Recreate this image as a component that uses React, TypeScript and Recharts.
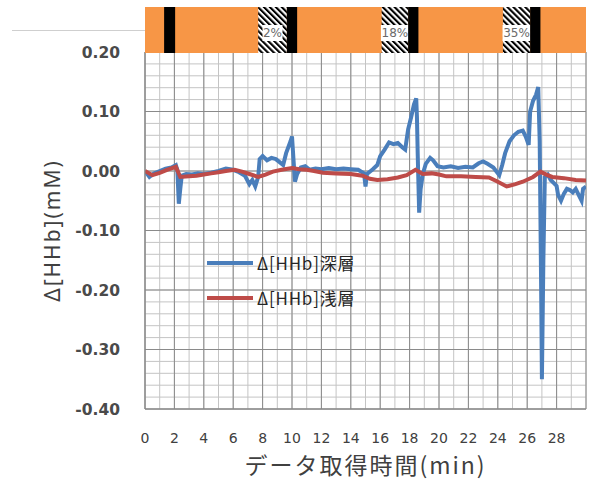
import React from 'react';
import {
  ComposedChart,
  LineChart,
  Line,
  XAxis,
  YAxis,
  CartesianGrid,
  Legend,
  ReferenceArea,
} from 'recharts';

// ---- data ----
const deepTime = [
  0.0, 0.3, 0.6, 1.0, 1.4, 1.8, 2.1, 2.2, 2.3, 2.4, 2.5, 2.8, 3.2, 3.6, 4.0, 4.5, 5.0, 5.5, 6.0, 6.4,
  6.8, 7.1, 7.3, 7.5, 7.7, 7.8, 8.0, 8.3, 8.6, 8.9, 9.2, 9.4, 9.6, 9.9, 10.0, 10.1, 10.2, 10.35, 10.6, 10.9,
  11.2, 11.6, 12.0, 12.5, 13.0, 13.5, 14.0, 14.5, 14.9, 15.0, 15.1, 15.5, 15.8, 16.0, 16.3, 16.6, 16.9, 17.2, 17.5, 17.7,
  17.9, 18.1, 18.3, 18.45, 18.5, 18.55, 18.65, 18.75, 18.9, 19.1, 19.4, 19.6, 19.9, 20.3, 20.8, 21.3, 21.8, 22.3, 22.7, 23.0,
  23.3, 23.7, 24.1, 24.3, 24.5, 24.8, 25.1, 25.4, 25.7, 25.9, 26.1, 26.2, 26.4, 26.6, 26.75, 26.85, 26.95, 27.0, 27.1, 27.2,
  27.4, 27.6, 27.8, 28.0, 28.1, 28.3, 28.5, 28.7, 28.9, 29.1, 29.3, 29.5, 29.7, 29.8, 30.0,
];
const deepValue = [
  0.0, -0.01, -0.004, 0.0, 0.004, 0.006, 0.01, 0.002, -0.055, -0.03, -0.008, -0.005, -0.006, -0.004, -0.005, -0.003, 0.0, 0.004, 0.002, -0.002,
  -0.008, -0.022, -0.015, -0.026, -0.01, 0.02, 0.025, 0.018, 0.022, 0.02, 0.014, 0.01, 0.03, 0.05, 0.058, 0.02, -0.018, -0.005, 0.006, 0.008,
  0.002, 0.004, 0.003, 0.005, 0.003, 0.004, 0.003, 0.002, -0.004, -0.026, -0.005, 0.003, 0.01, 0.025, 0.036, 0.048, 0.045, 0.047, 0.04, 0.036,
  0.07, 0.09, 0.112, 0.122, 0.09, 0.03, -0.07, -0.03, -0.005, 0.012, 0.022, 0.018, 0.008, 0.006, 0.008, 0.005, 0.007, 0.006, 0.013, 0.016,
  0.012, 0.006, -0.007, 0.01, 0.03, 0.05, 0.06, 0.066, 0.068, 0.058, 0.044, 0.1, 0.118, 0.128, 0.141, 0.05, -0.2, -0.35, -0.15, -0.01,
  -0.006, -0.015, -0.02, -0.025, -0.04, -0.05, -0.038, -0.03, -0.032, -0.036, -0.03, -0.04, -0.05, -0.03, -0.026,
];
const shallowTime = [
  0.0, 0.5, 1.0, 1.5, 2.1, 2.4, 3.0, 3.5, 4.0, 4.5, 5.0, 5.5, 6.1, 6.6, 7.1, 7.7, 8.2, 8.7, 9.3, 10.0,
  10.5, 11.0, 11.5, 12.1, 13.0, 14.0, 14.8, 15.3, 15.8, 16.5, 17.2, 17.8, 18.4, 18.9, 19.5, 20.0, 20.5, 21.5, 22.5, 23.4,
  24.0, 24.6, 25.2, 25.7, 26.4, 26.9, 27.3, 27.7, 28.5, 29.3, 30.0,
];
const shallowValue = [
  0.0, -0.007, -0.003, 0.002, 0.007, -0.01, -0.009, -0.008, -0.006, -0.004, -0.002, 0.0, 0.002, -0.001, -0.005, -0.01, -0.006, -0.001, 0.002, 0.005,
  0.003, 0.002, 0.0, -0.003, -0.004, -0.005, -0.008, -0.013, -0.015, -0.014, -0.011, -0.007, 0.002, -0.005, -0.004, -0.006, -0.009, -0.009, -0.01, -0.011,
  -0.018, -0.026, -0.022, -0.018, -0.01, -0.001, -0.006, -0.01, -0.012, -0.015, -0.016,
];

const seriesNames = ['Δ[HHb]深層', 'Δ[HHb]浅層'];
const xTicks = [0, 2, 4, 6, 8, 10, 12, 14, 16, 18, 20, 22, 24, 26, 28];
const yTicks = [0.2, 0.1, 0, -0.1, -0.2, -0.3, -0.4];
const majorX = [0, 2, 4, 6, 8, 10, 12, 14, 16, 18, 20, 22, 24, 26, 28, 30];
const minorX = Array.from({ length: 31 }, (_, i) => i);
const minorY = Array.from({ length: 31 }, (_, i) => -0.4 + i * 0.02);

// phase bar: black = transition, hatched = gas concentration
const blackIntervals = [
  [1.3, 2.05],
  [9.65, 10.35],
  [17.9, 18.6],
  [26.2, 26.9],
];
const hatchIntervals = [
  [7.7, 9.65],
  [16.1, 17.9],
  [24.35, 26.2],
];
const hatchLabels = ['2%', '18%', '35%'];

const deepData = deepTime.map((t, i) => ({ t, v: deepValue[i] }));
const shallowData = shallowTime.map((t, i) => ({ t, v: shallowValue[i] }));
const barData = [
  { t: 0, v: 0 },
  { t: 30, v: 0 },
];

const renderLegend = (props: any) => {
  const payload = [...(props.payload || [])].sort(
    (a: any, b: any) => seriesNames.indexOf(a.value) - seriesNames.indexOf(b.value)
  );
  return (
    <div>
      {payload.map((e: any) => (
        <div key={e.value} style={{ display: 'flex', alignItems: 'center', height: 35 }}>
          <svg width={50} height={10} style={{ display: 'block' }}>
            <line x1={2} x2={48} y1={5} y2={5} stroke={e.color} strokeWidth={4} />
          </svg>
          <span
            style={{
              fontFamily: '"Noto Sans CJK JP", "DejaVu Sans", sans-serif',
              fontSize: 17,
              letterSpacing: 0.8,
              color: '#262626',
              marginLeft: 2,
            }}
          >
            {e.value}
          </span>
        </div>
      ))}
    </div>
  );
};

const makeHatchLabel = (text: string) => (props: any) => {
  const vb = props.viewBox || {};
  const cx = vb.x + vb.width / 2;
  const cy = vb.y + vb.height / 2 + 3;
  const w = text.length * 8 + 4;
  return (
    <g>
      <rect x={cx - w / 2} y={cy - 8} width={w} height={16} fill="#ffffff" />
      <text
        x={cx}
        y={cy}
        textAnchor="middle"
        dominantBaseline="central"
        fontFamily='"DejaVu Sans", sans-serif'
        fontSize={12}
        fill="#6a6a6a"
      >
        {text}
      </text>
    </g>
  );
};

export default function App() {
  return (
    <div style={{ position: 'absolute', left: 0, top: 0, width: 592, height: 480, background: '#fff' }}>
      <svg width={0} height={0} style={{ position: 'absolute' }}>
        <defs>
          <pattern id="hatch" patternUnits="userSpaceOnUse" width={4.2} height={4.2} patternTransform="rotate(-45)">
            <rect width={4.2} height={4.2} fill="#ffffff" />
            <rect width={2.1} height={4.2} fill="#000000" />
          </pattern>
        </defs>
      </svg>
      <div style={{ position: 'absolute', left: 12, top: 30, width: 133, height: 1, background: '#cfcfcf' }} />
      <div style={{ position: 'absolute', left: 0, top: 0 }}>
        <LineChart width={592} height={480} margin={{ top: 52, right: 6, bottom: 0, left: 0 }}>
          <CartesianGrid stroke="#c4c4c4" strokeWidth={1} verticalValues={minorX} horizontalValues={minorY} />
          <CartesianGrid stroke="#8a8a8a" strokeWidth={1} verticalValues={majorX} horizontalValues={yTicks} />
          <XAxis
            dataKey="t"
            type="number"
            domain={[0, 30]}
            ticks={xTicks}
            interval={0}
            allowDataOverflow
            height={71}
            tickSize={0}
            tickMargin={24}
            tickLine={false}
            axisLine={{ stroke: '#868686' }}
            tick={{ fontFamily: '"DejaVu Sans", sans-serif', fontSize: 14, fill: '#404040' }}
            label={{
              value: 'データ取得時間(min)',
              position: 'insideBottom',
              offset: 6,
              style: {
                fontFamily: '"Noto Sans CJK JP", sans-serif',
                fontSize: 23,
                letterSpacing: 2,
                fill: '#404040',
              },
            }}
          />
          <YAxis
            type="number"
            domain={[-0.4, 0.2]}
            ticks={yTicks}
            interval={0}
            allowDataOverflow
            width={145}
            tickSize={0}
            tickMargin={25}
            tickLine={false}
            axisLine={{ stroke: '#868686' }}
            tickFormatter={(v: number) => v.toFixed(2)}
            tick={{ fontFamily: '"DejaVu Sans", sans-serif', fontSize: 15.5, fontWeight: 'bold', fill: '#4a4a4a' }}
            label={{
              value: 'Δ[HHb](mM)',
              angle: -90,
              position: 'insideLeft',
              offset: 53,
              textAnchor: 'middle',
              style: {
                fontFamily: '"Noto Sans", sans-serif',
                fontSize: 21,
                letterSpacing: 2,
                fill: '#404040',
                textAnchor: 'middle',
              },
            }}
          />
          <Legend
            layout="vertical"
            align="center"
            verticalAlign="middle"
            itemSorter={null as any}
            wrapperStyle={{ left: 205, top: 245, width: 220 }}
            content={renderLegend}
          />
          <Line
            data={deepData}
            dataKey="v"
            name={seriesNames[0]}
            stroke="#4a7ebb"
            strokeWidth={4}
            dot={false}
            type="linear"
            isAnimationActive={false}
          />
          <Line
            data={shallowData}
            dataKey="v"
            name={seriesNames[1]}
            stroke="#be4b48"
            strokeWidth={4}
            dot={false}
            type="linear"
            isAnimationActive={false}
          />
        </LineChart>
      </div>
      <div style={{ position: 'absolute', left: 0, top: 0 }}>
        <ComposedChart width={592} height={53} margin={{ top: 7, right: 6, bottom: 0, left: 145 }} data={barData}>
          <XAxis dataKey="t" type="number" domain={[0, 30]} hide />
          <YAxis type="number" domain={[0, 1]} hide />
          <ReferenceArea x1={0} x2={30} y1={0} y2={1} fill="#f79646" fillOpacity={1} stroke="none" />
          {hatchIntervals.map(([a, b], i) => (
            <ReferenceArea
              key={'h' + i}
              x1={a}
              x2={b}
              y1={0}
              y2={1}
              fill="url(#hatch)"
              fillOpacity={1}
              stroke="none"
              label={makeHatchLabel(hatchLabels[i])}
            />
          ))}
          {blackIntervals.map(([a, b], i) => (
            <ReferenceArea key={'b' + i} x1={a} x2={b} y1={0} y2={1} fill="#000000" fillOpacity={1} stroke="none" />
          ))}
          <Line dataKey="v" stroke="none" dot={false} isAnimationActive={false} legendType="none" />
        </ComposedChart>
      </div>
    </div>
  );
}
